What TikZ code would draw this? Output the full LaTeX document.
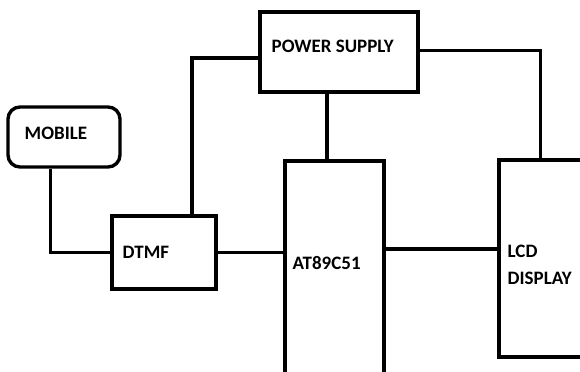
\documentclass[tikz,border=0pt]{standalone}
\usepackage{fontspec}
\setmainfont{Carlito}
\begin{document}
\begin{tikzpicture}[x=0.025cm,y=-0.025cm,line width=2.4pt,
  blk/.style={draw,rectangle,inner sep=0pt},
  lbl/.style={anchor=west,inner sep=0pt,font=\fontsize{13.5}{19}\selectfont\bfseries,align=left}]
\clip (0,0) rectangle (580,372);
\node[blk,minimum width=3.95cm,minimum height=2cm] (ps) at (339,52) {};
\node[blk,rounded corners=0.3cm,minimum width=2.8cm,minimum height=1.5cm] (mob) at (64,137) {};
\node[blk,minimum width=2.6cm,minimum height=1.825cm] (dtmf) at (164,252.5) {};
\node[blk,minimum width=2.475cm,minimum height=5.975cm] (mcu) at (334.5,280.5) {};
\node[blk,minimum width=2.075cm,minimum height=4.925cm] (lcd) at (540.5,258.5) {};
\node[lbl] (pstxt) at (270,46) {POWER SUPPLY};
\node[lbl] (mobtxt) at (23,133) {MOBILE};
\node[lbl] (dtmftxt) at (121,252) {DTMF};
\node[lbl] (mcutxt) at (291,263) {AT89C51};
\node[lbl] (lcdtxt) at (506,265) {LCD\\DISPLAY};
\draw (mob.south west) ++(44,0) |- (dtmf.west);
\draw ([yshift=-0.15cm]ps.west) -| ([xshift=0.7cm]dtmf.north);
\draw ([yshift=0.03cm]ps.east) -| (lcd.north);
\draw ([xshift=-0.3cm]ps.south) -- ([xshift=-0.3cm]ps.south |- mcu.north);
\draw (dtmf.east) -- (dtmf.east -| mcu.west);
\draw ([yshift=0.24cm]lcd.west) -- ([yshift=0.24cm]lcd.west -| mcu.east);
\end{tikzpicture}
\end{document}
